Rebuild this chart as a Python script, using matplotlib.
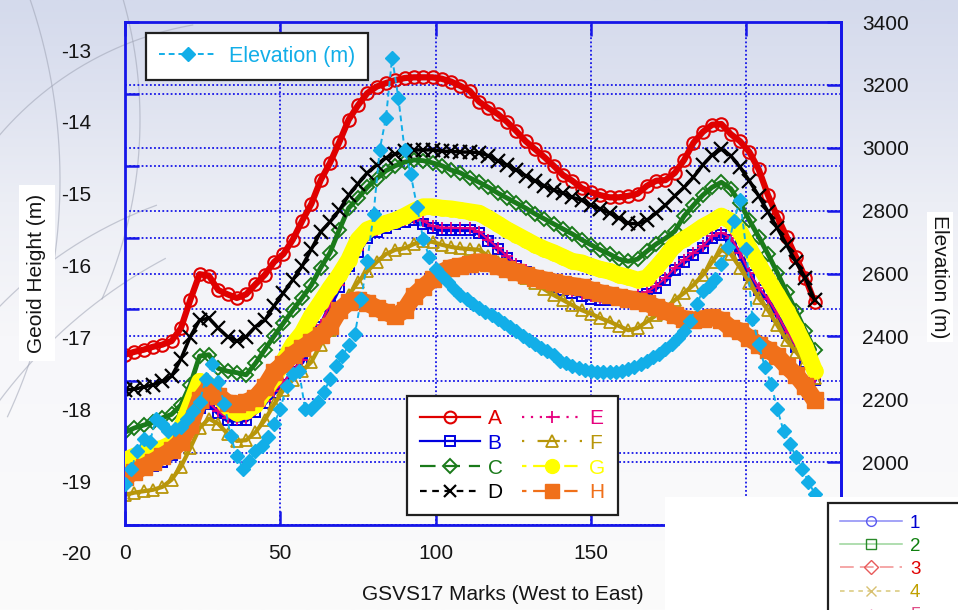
import numpy as np
import matplotlib
matplotlib.use("Agg")
import matplotlib.pyplot as plt
from matplotlib.lines import Line2D
from matplotlib.patches import Rectangle
from matplotlib.transforms import ScaledTranslation, blended_transform_factory

plt.rcParams['font.family'] = ['Liberation Sans', 'DejaVu Sans']
plt.rcParams['axes.unicode_minus'] = False

# ---------------------------------------------------------------- data
# GSVS17 mark index: geoid models sampled every third mark, elevation every second
marks = np.arange(0, 223, 3)
elev_marks = np.arange(0, 227, 2)

model_names = ['A', 'B', 'C', 'D', 'E', 'F', 'G', 'H']

geoid_A = [-17.63, -17.59, -17.56, -17.52, -17.49, -17.44, -17.26, -16.87, -16.51, -16.53,
           -16.73, -16.79, -16.84, -16.79, -16.65, -16.52, -16.34, -16.23, -16.03, -15.77,
           -15.53, -15.20, -14.96, -14.67, -14.36, -14.16, -13.99, -13.90, -13.85, -13.81,
           -13.78, -13.77, -13.77, -13.77, -13.79, -13.83, -13.89, -13.96, -14.11, -14.20,
           -14.28, -14.39, -14.52, -14.66, -14.77, -14.88, -15.00, -15.13, -15.21, -15.31,
           -15.37, -15.41, -15.44, -15.44, -15.42, -15.39, -15.28, -15.21, -15.20, -15.10,
           -14.92, -14.68, -14.53, -14.43, -14.42, -14.56, -14.66, -14.81, -15.05, -15.41,
           -15.71, -15.99, -16.27, -16.56, -16.90]
geoid_B = [-19.19, -19.19, -19.19, -19.18, -19.12, -19.03, -18.84, -18.61, -18.37, -18.32,
           -18.44, -18.54, -18.54, -18.54, -18.43, -18.30, -18.16, -18.05, -17.87, -17.73,
           -17.49, -17.24, -16.95, -16.69, -16.40, -16.20, -16.01, -15.92, -15.87, -15.81,
           -15.78, -15.76, -15.81, -15.87, -15.89, -15.89, -15.89, -15.89, -15.94, -16.05,
           -16.16, -16.28, -16.40, -16.48, -16.55, -16.62, -16.69, -16.73, -16.77, -16.81,
           -16.85, -16.87, -16.87, -16.87, -16.85, -16.83, -16.79, -16.70, -16.59, -16.45,
           -16.34, -16.24, -16.15, -16.01, -15.96, -16.03, -16.24, -16.52, -16.73, -16.87,
           -17.09, -17.33, -17.52, -17.73, -17.98]
geoid_C = [-18.71, -18.65, -18.61, -18.57, -18.51, -18.46, -18.33, -18.05, -17.65, -17.63,
           -17.82, -17.86, -17.88, -17.91, -17.75, -17.56, -17.37, -17.19, -17.01, -16.84,
           -16.66, -16.42, -16.21, -15.89, -15.59, -15.45, -15.30, -15.18, -15.07, -15.00,
           -14.95, -14.92, -14.93, -14.96, -15.00, -15.06, -15.10, -15.17, -15.23, -15.30,
           -15.38, -15.45, -15.52, -15.59, -15.67, -15.74, -15.81, -15.88, -15.95, -16.03,
           -16.10, -16.17, -16.23, -16.30, -16.33, -16.30, -16.19, -16.09, -16.01, -15.91,
           -15.70, -15.55, -15.41, -15.30, -15.23, -15.32, -15.52, -15.76, -15.99, -16.23,
           -16.49, -16.76, -17.02, -17.30, -17.56]
geoid_D = [-18.12, -18.11, -18.08, -18.05, -18.00, -17.93, -17.69, -17.38, -17.15, -17.12,
           -17.26, -17.38, -17.44, -17.38, -17.24, -17.15, -16.95, -16.77, -16.59, -16.40,
           -16.16, -15.92, -15.78, -15.62, -15.41, -15.25, -15.10, -14.99, -14.89, -14.84,
           -14.80, -14.78, -14.78, -14.78, -14.80, -14.80, -14.81, -14.81, -14.82, -14.86,
           -14.93, -14.99, -15.06, -15.14, -15.21, -15.28, -15.34, -15.38, -15.44, -15.48,
           -15.55, -15.60, -15.66, -15.73, -15.80, -15.81, -15.76, -15.66, -15.55, -15.42,
           -15.30, -15.16, -14.99, -14.85, -14.77, -14.86, -15.02, -15.21, -15.42, -15.64,
           -15.87, -16.10, -16.34, -16.56, -16.87]
geoid_E = [-19.17, -19.17, -19.16, -19.15, -19.10, -19.00, -18.82, -18.58, -18.35, -18.30,
           -18.42, -18.51, -18.52, -18.51, -18.40, -18.27, -18.13, -18.02, -17.85, -17.70,
           -17.46, -17.21, -16.92, -16.66, -16.38, -16.17, -15.98, -15.89, -15.84, -15.78,
           -15.75, -15.73, -15.77, -15.84, -15.86, -15.86, -15.87, -15.87, -15.92, -16.03,
           -16.14, -16.26, -16.37, -16.45, -16.52, -16.59, -16.66, -16.70, -16.74, -16.78,
           -16.82, -16.84, -16.84, -16.84, -16.82, -16.80, -16.76, -16.67, -16.56, -16.42,
           -16.31, -16.21, -16.12, -15.98, -15.93, -16.00, -16.21, -16.49, -16.70, -16.85,
           -17.07, -17.31, -17.50, -17.71, -17.96]
geoid_F = [-19.58, -19.55, -19.53, -19.51, -19.47, -19.37, -19.19, -18.93, -18.65, -18.52,
           -18.59, -18.73, -18.83, -18.82, -18.71, -18.54, -18.32, -18.12, -17.98, -17.86,
           -17.73, -17.49, -17.29, -17.04, -16.80, -16.62, -16.47, -16.34, -16.23, -16.17,
           -16.15, -16.09, -16.05, -16.06, -16.10, -16.13, -16.15, -16.16, -16.17, -16.26,
           -16.34, -16.41, -16.49, -16.56, -16.63, -16.72, -16.80, -16.87, -16.94, -17.01,
           -17.06, -17.12, -17.17, -17.23, -17.29, -17.26, -17.17, -17.08, -16.98, -16.87,
           -16.77, -16.66, -16.52, -16.34, -16.17, -16.23, -16.42, -16.63, -16.84, -17.01,
           -17.22, -17.43, -17.59, -17.75, -17.95]
geoid_G = [-19.10, -19.04, -19.00, -18.96, -18.93, -18.87, -18.65, -18.33, -18.00, -18.05,
           -18.20, -18.36, -18.44, -18.41, -18.33, -18.14, -17.95, -17.72, -17.49, -17.33,
           -17.09, -16.90, -16.70, -16.52, -16.31, -16.03, -15.89, -15.84, -15.80, -15.76,
           -15.70, -15.63, -15.57, -15.57, -15.59, -15.60, -15.62, -15.64, -15.66, -15.73,
           -15.81, -15.89, -15.96, -16.03, -16.10, -16.16, -16.21, -16.27, -16.33, -16.35,
           -16.40, -16.44, -16.47, -16.52, -16.55, -16.59, -16.56, -16.42, -16.27, -16.10,
           -16.02, -15.94, -15.85, -15.78, -15.70, -15.77, -15.92, -16.15, -16.38, -16.59,
           -16.80, -17.02, -17.26, -17.52, -17.85]
geoid_H = [-19.33, -19.26, -19.19, -19.12, -19.04, -18.96, -18.84, -18.61, -18.26, -18.09,
           -18.20, -18.30, -18.32, -18.29, -18.23, -18.08, -17.87, -17.76, -17.63, -17.54,
           -17.45, -17.36, -17.23, -17.01, -16.90, -16.87, -16.91, -16.98, -17.04, -17.09,
           -17.01, -16.81, -16.69, -16.58, -16.48, -16.42, -16.40, -16.37, -16.34, -16.35,
           -16.40, -16.44, -16.48, -16.52, -16.56, -16.59, -16.62, -16.65, -16.67, -16.69,
           -16.73, -16.77, -16.80, -16.83, -16.85, -16.88, -16.91, -16.97, -17.02, -17.08,
           -17.13, -17.15, -17.13, -17.11, -17.15, -17.26, -17.30, -17.40, -17.49, -17.56,
           -17.65, -17.79, -17.91, -18.07, -18.26]

elevation_m = [1931, 1979, 2036, 2074, 2065, 2138, 2122, 2099, 2106, 2112,
               2138, 2163, 2191, 2264, 2312, 2255, 2185, 2084, 2020, 1979,
               2004, 2036, 2052, 2080, 2122, 2169, 2242, 2280, 2290, 2169,
               2169, 2191, 2223, 2264, 2306, 2337, 2372, 2407, 2518, 2639,
               2788, 2994, 3095, 3286, 3159, 2994, 2915, 2813, 2709, 2651,
               2613, 2591, 2572, 2550, 2531, 2518, 2502, 2490, 2477, 2467,
               2455, 2442, 2429, 2417, 2401, 2388, 2375, 2363, 2353, 2341,
               2322, 2315, 2306, 2299, 2293, 2290, 2287, 2287, 2287, 2287,
               2290, 2296, 2302, 2312, 2322, 2334, 2344, 2360, 2375, 2394,
               2417, 2448, 2502, 2544, 2559, 2582, 2629, 2683, 2766, 2835,
               2677, 2455, 2375, 2302, 2249, 2169, 2099, 2058, 2017, 1979,
               1938, 1900, 1858, 1820]

x_ticks = [0, 50, 100, 150, 200]
geoid_ticks = list(range(-20, -12))
elev_ticks = list(range(1800, 3401, 200))
other_names = ['1', '2', '3', '4', '5']

geoid_series = dict(zip(model_names, [geoid_A, geoid_B, geoid_C, geoid_D,
                                      geoid_E, geoid_F, geoid_G, geoid_H]))

# ---------------------------------------------------------------- styles
BLUE = '#1616e8'
CYAN = '#12aee8'
DOT = (0, (1.0, 1.3))

styles = {
    'A': dict(color='#e00000', marker='o', mfc='none', ms=9.0, mew=1.5, band=4.5, ls='-'),
    'B': dict(color='#0000e0', marker='s', mfc='none', ms=7.5, mew=1.4, band=3.5, ls='-'),
    'C': dict(color='#1a7a1a', marker='D', mfc='none', ms=7.0, mew=1.4, band=3.5, ls=(0, (7, 4))),
    'D': dict(color='#000000', marker='x', mfc='none', ms=9.5, mew=1.6, band=2.5, ls=(0, (3, 2.5))),
    'E': dict(color='#e6007e', marker='+', mfc='none', ms=8.0, mew=1.3, band=1.5, ls=(0, (1, 3))),
    'F': dict(color='#b8960a', marker='^', mfc='none', ms=8.5, mew=1.3, band=3.0, ls=(0, (1, 6, 10, 2))),
    'G': dict(color='#ffff00', marker='o', mfc='#ffff00', ms=11.0, mew=1.0, band=12.0, ls=(0, (2, 3, 6, 3))),
    'H': dict(color='#f0701a', marker='s', mfc='#f0701a', ms=11.0, mew=1.0, band=12.5, ls=(0, (2, 3, 6, 3))),
}
legend_ms = {'A': 8.5, 'B': 7.5, 'C': 7.0, 'D': 9.0, 'E': 9.0, 'F': 8.5, 'G': 10.0, 'H': 10.5}

W, H = 958, 610
fig = plt.figure(figsize=(W / 100, H / 100), dpi=100)

# ---------------------------------------------------------------- backdrop
bg = fig.add_axes([0, 0, 1, 1], zorder=-10)
stops = [0.0, 0.15, 0.33, 0.55, 1.0]
rgb_top_to_bottom = np.array([[212, 218, 236], [222, 226, 240], [236, 238, 245],
                              [247, 247, 250], [251, 251, 251]]) / 255.0
t = np.linspace(0, 1, 400)
grad = np.stack([np.interp(t, stops, rgb_top_to_bottom[:, k]) for k in range(3)], axis=1)
bg.imshow(grad[:, None, :], extent=[0, W, H, 0], aspect='auto', interpolation='bilinear')
bg.set_xlim(0, W)
bg.set_ylim(H, 0)
bg.axis('off')


def faint_arc(cx, cy, r, a0, a1):
    ang = np.radians(np.linspace(a0, a1, 200))
    bg.plot(cx + r * np.cos(ang), cy + r * np.sin(ang),
            color='#9ea3b4', lw=0.9, alpha=0.55)


faint_arc(250, 350, 330, -150, -100)
faint_arc(-500, 180, 560, -19, 25)
faint_arc(-300, 120, 440, -16, 24)
faint_arc(400, 700, 500, -145, -118)
faint_arc(300, 600, 420, -140, -110)

# ---------------------------------------------------------------- axes
ax = fig.add_axes([125 / W, 1 - 525 / H, (841 - 125) / W, (525 - 22) / H])
ax.patch.set_alpha(0)
ax2 = ax.twinx()

for z, name in enumerate(model_names):
    st = styles[name]
    ax.plot(marks, geoid_series[name], color=st['color'], lw=st['band'], ls='-',
            marker=st['marker'], ms=st['ms'], mfc=st['mfc'], mec=st['color'],
            mew=st['mew'], solid_joinstyle='round', solid_capstyle='round',
            zorder=2 + z * 0.1)

ax2.plot(elev_marks, elevation_m, color=CYAN, lw=1.4, ls=(0, (3, 2)),
         marker='D', ms=7.5, mfc=CYAN, mec=CYAN, zorder=3)

ax.set_xticks(x_ticks)
ax.set_yticks(geoid_ticks)
ax2.set_yticks(elev_ticks)

# grid (elevation grid drawn on the lower axes so it stays beneath the data)
ax.set_axisbelow(True)
ax.grid(True, color=BLUE, ls=DOT, lw=1.3, zorder=0.5)
elev_grid_tf = blended_transform_factory(ax.transAxes, ax2.transData)
for e in elev_ticks:
    ax.add_line(Line2D([0, 1], [e, e], transform=elev_grid_tf, color=BLUE,
                       ls=DOT, lw=1.3, zorder=0.5))
ax.set_xlim(0, 230.5)
ax.set_ylim(-20, -13)
ax2.set_ylim(1800, 3400)

for sp in ax.spines.values():
    sp.set_color(BLUE)
    sp.set_linewidth(2.0)
for side in ('left', 'top', 'bottom'):
    ax2.spines[side].set_visible(False)
ax2.spines['right'].set_color(BLUE)
ax2.spines['right'].set_linewidth(2.0)

ax.tick_params(axis='x', direction='in', length=10, width=1.8, color=BLUE,
               top=True, labeltop=False, labelsize=15, pad=14, labelcolor='#151515')
ax.tick_params(axis='y', direction='in', length=10, width=1.8, color=BLUE,
               right=False, labelsize=15, pad=24, labelcolor='#151515')
ax2.tick_params(axis='y', direction='in', length=10, width=1.8, color=BLUE,
                labelsize=15, pad=15, labelcolor='#151515')

# geoid tick labels sit a little below their ticks
shift = ScaledTranslation(0, -0.28, fig.dpi_scale_trans)
for lbl in ax.get_yticklabels():
    lbl.set_transform(lbl.get_transform() + shift)

# ---------------------------------------------------------------- axis titles
fig.text(37 / W, 1 - 273 / H, 'Geoid Height (m)', rotation=90, ha='center', va='center',
         fontsize=15, color='#151515',
         bbox=dict(fc='white', ec='none', pad=6))
fig.text(940 / W, 1 - 277 / H, 'Elevation (m)', rotation=270, ha='center', va='center',
         fontsize=15, color='#151515',
         bbox=dict(fc='white', ec='none', pad=2.5))
fig.text(503 / W, 1 - 594 / H, 'GSVS17 Marks (West to East)', ha='center', va='center',
         fontsize=15, color='#151515')

# ---------------------------------------------------------------- legends
model_handles = []
for name in model_names:
    st = styles[name]
    model_handles.append(Line2D([], [], color=st['color'], ls=st['ls'], lw=1.6,
                                marker=st['marker'], ms=legend_ms[name],
                                mfc=st['mfc'], mec=st['color'], mew=st['mew']))
leg1 = fig.legend(model_handles, model_names, ncol=2, loc='upper left',
                  bbox_to_anchor=(407 / W, 1 - 396 / H), borderaxespad=0,
                  fontsize=15, frameon=True, fancybox=False, framealpha=1,
                  edgecolor='#202020', borderpad=0.62, labelspacing=0.28,
                  handlelength=2.9, handletextpad=0.35, columnspacing=0.9)
leg1.get_frame().set_linewidth(1.6)
for txt, name in zip(leg1.get_texts(), model_names):
    txt.set_color(styles[name]['color'])

elev_handle = Line2D([], [], color=CYAN, ls=(0, (3, 2)), lw=1.4, marker='D',
                     ms=7.5, mfc=CYAN, mec=CYAN)
leg0 = fig.legend([elev_handle], ['Elevation (m)'], loc='upper left',
                  bbox_to_anchor=(146 / W, 1 - 33 / H), borderaxespad=0,
                  fontsize=15.5, frameon=True, fancybox=False, framealpha=1,
                  edgecolor='#202020', borderpad=0.6, handlelength=2.7,
                  handletextpad=0.55)
leg0.get_frame().set_linewidth(1.6)
leg0.get_texts()[0].set_color(CYAN)

# bottom-right panel with a second key
fig.add_artist(Rectangle((665 / W, 0), 1 - 665 / W, (H - 497) / H,
                         transform=fig.transFigure, fc='white', ec='none', zorder=20))
other_styles = [
    dict(color='#8a8af5', marker='o', mec='#5a5af0', ls='-', text='#0000d0'),
    dict(color='#9ad49a', marker='s', mec='#2a8a2a', ls='-', text='#108010'),
    dict(color='#f29090', marker='D', mec='#e85a5a', ls=(0, (9, 4)), text='#e00000'),
    dict(color='#d8c878', marker='x', mec='#d8c070', ls=(0, (3, 3)), text='#c0a000'),
    dict(color='#e890b0', marker='+', mec='#e070a0', ls=(0, (1, 3)), text='#e05088'),
]
other_handles = [Line2D([], [], color=s['color'], ls=s['ls'], lw=1.1, marker=s['marker'],
                        ms=7, mfc='none', mec=s['mec'], mew=1.0) for s in other_styles]
leg2 = fig.legend(other_handles, other_names, loc='upper left',
                  bbox_to_anchor=(828 / W, 0, 320 / W, 1 - 503 / H), mode='expand',
                  borderaxespad=0, fontsize=13.5, frameon=True, fancybox=False,
                  framealpha=1, edgecolor='#202020', borderpad=0.62,
                  labelspacing=0.32, handlelength=3.3, handletextpad=0.45)
leg2.get_frame().set_linewidth(1.6)
leg2.set_zorder(21)
for txt, s in zip(leg2.get_texts(), other_styles):
    txt.set_color(s['text'])

fig.savefig('out.png', dpi=100)
